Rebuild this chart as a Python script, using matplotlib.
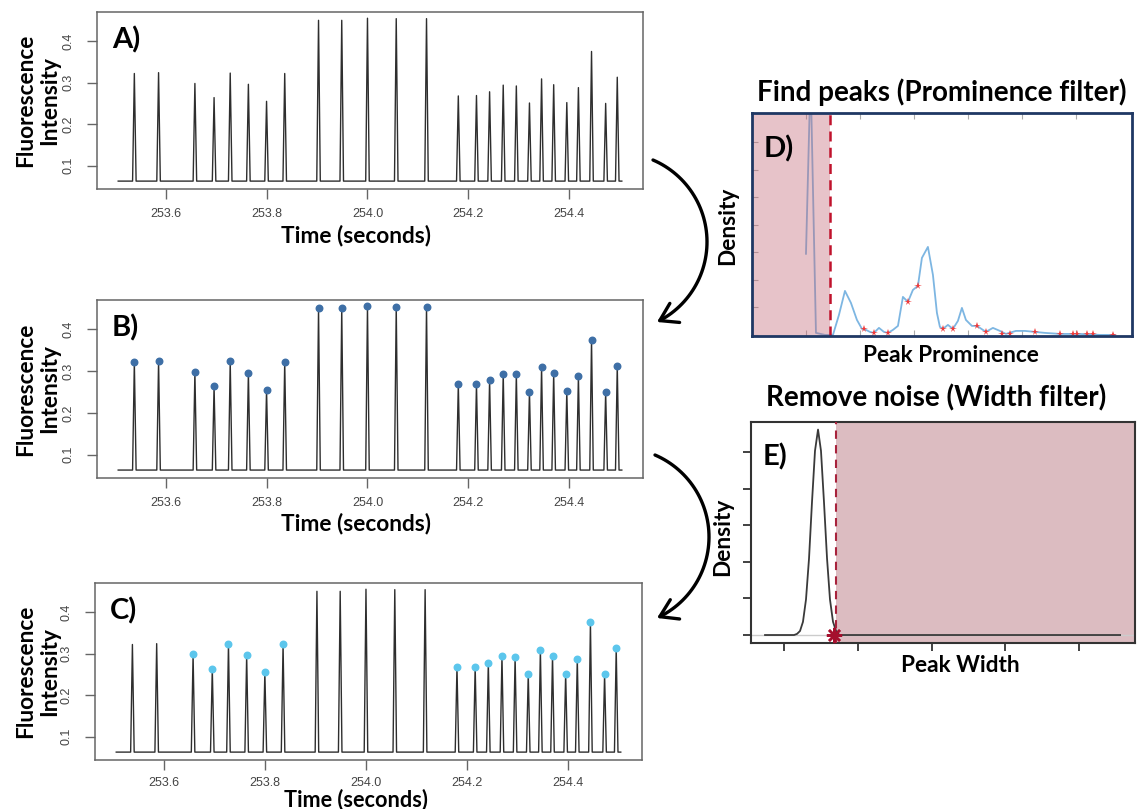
import numpy as np
import matplotlib
matplotlib.use("Agg")
import matplotlib.pyplot as plt
from matplotlib.patches import FancyArrowPatch
from matplotlib.path import Path

# ---------------- data ----------------
peak_times = [253.538, 253.586, 253.658, 253.696, 253.728, 253.764, 253.800, 253.836,
              253.903, 253.949, 254.000, 254.057, 254.117,
              254.180, 254.216, 254.242, 254.269, 254.295, 254.321, 254.345, 254.369,
              254.395, 254.418, 254.444, 254.472, 254.495]
peak_heights = [0.322, 0.324, 0.298, 0.264, 0.323, 0.296, 0.255, 0.322,
                0.450, 0.450, 0.455, 0.454, 0.454,
                0.268, 0.269, 0.278, 0.294, 0.292, 0.251, 0.309, 0.295,
                0.252, 0.288, 0.375, 0.250, 0.313]
kept_after_width_filter = [False, False, True, True, True, True, True, True,
                           False, False, False, False, False,
                           True, True, True, True, True, True, True, True,
                           True, True, True, True, True]
baseline_level = 0.063
trace_start = 253.506
trace_end = 254.504
time_ticks = [253.6, 253.8, 254.0, 254.2, 254.4]
time_tick_labels = ["253.6", "253.8", "254.0", "254.2", "254.4"]
intensity_ticks = [0.1, 0.2, 0.3, 0.4]
intensity_tick_labels = ["0.1", "0.2", "0.3", "0.4"]

# panel D: density of peak prominence
prom_x = [1.000, 1.085, 1.185, 1.352, 1.500, 1.611, 1.722, 1.833, 1.944, 2.037, 2.111,
          2.185, 2.259, 2.352, 2.444, 2.519, 2.611, 2.704, 2.796, 2.889, 2.981, 3.074,
          3.148, 3.259, 3.352, 3.426, 3.481, 3.537, 3.630, 3.722, 3.815, 3.889, 3.963,
          4.074, 4.167, 4.278, 4.333, 4.463, 4.593, 4.704, 4.889, 5.056, 5.241, 5.426,
          5.704, 6.074, 6.444, 6.722]
prom_density = [2.95, 9.50, 0.073, 0.0, 0.0, 0.727, 1.600, 1.164, 0.545, 0.218, 0.182,
                0.109, 0.073, 0.255, 0.109, 0.073, 0.182, 0.327, 1.382, 1.200, 1.636, 1.782,
                2.800, 3.200, 2.182, 0.800, 0.291, 0.218, 0.364, 0.218, 0.509, 0.982, 0.545,
                0.327, 0.327, 0.182, 0.109, 0.255, 0.145, 0.036, 0.145, 0.145, 0.109, 0.073,
                0.036, 0.036, 0.0, 0.0]
prom_found_x = [2.074, 2.259, 2.519, 2.889, 3.074, 3.537, 3.722, 4.167, 4.333, 4.630,
                4.778, 5.241, 5.704, 5.944, 6.019, 6.204, 6.315, 6.685]
prom_found_y = [0.218, 0.073, 0.073, 1.200, 1.782, 0.218, 0.218, 0.327, 0.109, 0.036,
                0.036, 0.109, 0.036, 0.036, 0.036, 0.036, 0.036, 0.0]
prom_threshold = 1.444
prom_xticks = [1, 2, 3, 4, 5, 6]
prom_yticks = [0, 1, 2, 3, 4, 5, 6, 7]

# panel E: density of peak width
width_x = [0.743, 1.136, 1.176, 1.217, 1.257, 1.298, 1.339, 1.379, 1.420, 1.461, 1.501,
           1.542, 1.583, 1.623, 1.664, 1.705, 1.750, 5.553]
width_density = [0.0, 0.0, 0.03, 0.11, 0.36, 0.97, 2.09, 3.62, 5.03, 5.61, 5.03, 3.62,
                 2.09, 0.97, 0.36, 0.11, 0.0, 0.0]
width_threshold = 1.705
width_star = (1.68, 0.0)
width_xticks = [1, 2, 3, 4, 5]
width_yticks = [0, 1, 2, 3, 4, 5]

# ---------------- figure ----------------
W, H = 1138, 809
plt.rcParams['font.family'] = ['Lato', 'DejaVu Sans']
fig = plt.figure(figsize=(W / 100, H / 100), dpi=100)


def px_axes(left, top, right, bottom):
    return fig.add_axes([left / W, 1 - bottom / H, (right - left) / W, (bottom - top) / H])


def ftext(x, y, s, **kw):
    fig.text(x / W, 1 - y / H, s, **kw)


LABEL_KW = dict(fontweight='bold', color='black')
AXLAB = 16.3

# build trace from peaks
half_w = 0.0035
trace_t = [trace_start]
trace_y = [baseline_level]
for t, h in zip(peak_times, peak_heights):
    trace_t += [t - half_w, t, t + half_w]
    trace_y += [baseline_level, h, baseline_level]
trace_t.append(trace_end)
trace_y.append(baseline_level)

panel_boxes = [(97, 12, 643, 189), (97, 300, 643, 478), (95, 583, 642, 760)]
xlabel_y = [235, 524, 800]
xlabel_size = [AXLAB, AXLAB, 15.6]
xtick_pad = [7, 7, 5]
letters = ["A)", "B)", "C)"]
for i, (l, t, r, b) in enumerate(panel_boxes):
    ax = px_axes(l, t, r, b)
    ax.plot(trace_t, trace_y, color='#2e2e2e', lw=1.0, zorder=2)
    if i == 1:
        ax.plot(peak_times, peak_heights, 'o', color='#3e6fa6', ms=4.7, zorder=3)
    if i == 2:
        kt = [pt for pt, k in zip(peak_times, kept_after_width_filter) if k]
        kh = [ph for ph, k in zip(peak_heights, kept_after_width_filter) if k]
        ax.plot(kt, kh, 'o', color='#5cc6ec', ms=4.7, zorder=3)
    ax.set_xlim(253.464, 254.546)
    ax.set_ylim(0.044, 0.470)
    ax.set_xticks(time_ticks)
    ax.set_xticklabels(time_tick_labels, family='Liberation Sans', fontsize=9, color='#444444')
    ax.set_yticks(intensity_ticks)
    ax.set_yticklabels(intensity_tick_labels, family='Liberation Sans', fontsize=9,
                       color='#444444', rotation=90, va='center')
    for sp in ax.spines.values():
        sp.set_color('#666666')
        sp.set_linewidth(1.1)
    ax.tick_params(direction='out', length=7, width=1.0, color='#666666')
    ax.tick_params(axis='x', pad=xtick_pad[i])
    ax.tick_params(axis='y', pad=9)
    ax.text(0.027, 0.845, letters[i], transform=ax.transAxes, fontsize=21,
            ha='left', va='center', **LABEL_KW)
    cy = (t + b) / 2
    ftext(26, cy, "Fluorescence", rotation=90, ha='center', va='center', fontsize=AXLAB, **LABEL_KW)
    ftext(50, cy, "Intensity", rotation=90, ha='center', va='center', fontsize=AXLAB, **LABEL_KW)
    ftext(356, xlabel_y[i], "Time (seconds)", ha='center', va='center',
          fontsize=xlabel_size[i], **LABEL_KW)

# ---------------- panel D ----------------
axd = px_axes(752, 113, 1132, 336)
axd.plot(prom_x, prom_density, color='#7db6e2', lw=1.3, zorder=2)
axd.axvspan(0, prom_threshold, color='#c56978', alpha=0.4, lw=0, zorder=3)
axd.axvline(prom_threshold, color='#c0122c', lw=1.8, ls=(0, (4, 2.5)), zorder=4)
axd.plot(prom_found_x, prom_found_y, '*', color='#f03a3a', ms=5.5, mew=0, zorder=5)
axd.set_xlim(0, 7.04)
axd.set_ylim(-0.04, 8.07)
axd.set_xticks(prom_xticks)
axd.set_yticks(prom_yticks)
axd.tick_params(direction='in', length=4, width=0.8, color='#aaaaaa',
                top=True, labelleft=False, labelbottom=False)
for sp in axd.spines.values():
    sp.set_color('#1f3864')
    sp.set_linewidth(2.0)
    sp.set_zorder(6)
axd.text(0.03, 0.84, "D)", transform=axd.transAxes, fontsize=21, ha='left', va='center',
         zorder=7, **LABEL_KW)
ftext(942, 92, "Find peaks (Prominence filter)", ha='center', va='center', fontsize=20, **LABEL_KW)
ftext(728, 226, "Density", rotation=90, ha='center', va='center', fontsize=AXLAB, **LABEL_KW)
ftext(951, 356, "Peak Prominence", ha='center', va='center', fontsize=AXLAB, **LABEL_KW)

# ---------------- panel E ----------------
axe = px_axes(751, 422, 1135, 643)
axe.axvspan(width_threshold, 5.755, color='#dcbcc1', lw=0, zorder=1)
axe.axhline(0, color='#cccccc', lw=1.0, zorder=1.5)
axe.plot(width_x, width_density, color='#3a3a3a', lw=1.3, zorder=2)
axe.axvline(width_threshold, color='#a8233c', lw=1.5, ls=(0, (4, 3)), zorder=3)
axe.plot([width_star[0]], [width_star[1]], marker=(8, 2, 0), color='#a50f2d', ms=11,
         mew=1.8, zorder=4)
axe.set_xlim(0.553, 5.755)
axe.set_ylim(-0.218, 5.817)
axe.set_xticks(width_xticks)
axe.set_yticks(width_yticks)
axe.tick_params(direction='out', length=6, width=1.3, color='#333333',
                labelleft=False, labelbottom=False)
for sp in axe.spines.values():
    sp.set_color('#333333')
    sp.set_linewidth(1.5)
axe.text(0.03, 0.84, "E)", transform=axe.transAxes, fontsize=21, ha='left', va='center',
         zorder=7, **LABEL_KW)
ftext(936, 398, "Remove noise (Width filter)", ha='center', va='center', fontsize=20, **LABEL_KW)
ftext(723, 537, "Density", rotation=90, ha='center', va='center', fontsize=AXLAB, **LABEL_KW)
ftext(960, 665, "Peak Width", ha='center', va='center', fontsize=AXLAB, **LABEL_KW)


# ---------------- curved arrows ----------------
def arc_arrow(p_start, p_mid, p_end):
    # circle through three points (pixel coords, y down)
    (x1, y1), (x2, y2), (x3, y3) = p_start, p_mid, p_end
    d = 2 * (x1 * (y2 - y3) + x2 * (y3 - y1) + x3 * (y1 - y2))
    ux = ((x1**2 + y1**2) * (y2 - y3) + (x2**2 + y2**2) * (y3 - y1) + (x3**2 + y3**2) * (y1 - y2)) / d
    uy = ((x1**2 + y1**2) * (x3 - x2) + (x2**2 + y2**2) * (x1 - x3) + (x3**2 + y3**2) * (x2 - x1)) / d
    r = np.hypot(x1 - ux, y1 - uy)
    a1 = np.arctan2(y1 - uy, x1 - ux)
    a3 = np.arctan2(y3 - uy, x3 - ux)
    ang = np.linspace(a1, a3, 60)
    xs = ux + r * np.cos(ang)
    ys = uy + r * np.sin(ang)
    verts = [(x / W, 1 - y / H) for x, y in zip(xs, ys)]
    path = Path(verts)
    arr = FancyArrowPatch(path=path, arrowstyle='->,head_length=0.55,head_width=0.35',
                          mutation_scale=22, lw=2.4, color='black',
                          transform=fig.transFigure)
    fig.add_artist(arr)


arc_arrow((653, 160), (707, 241), (657, 322))
arc_arrow((655, 455), (709, 537), (657, 618))

fig.savefig("out.png", dpi=100)
